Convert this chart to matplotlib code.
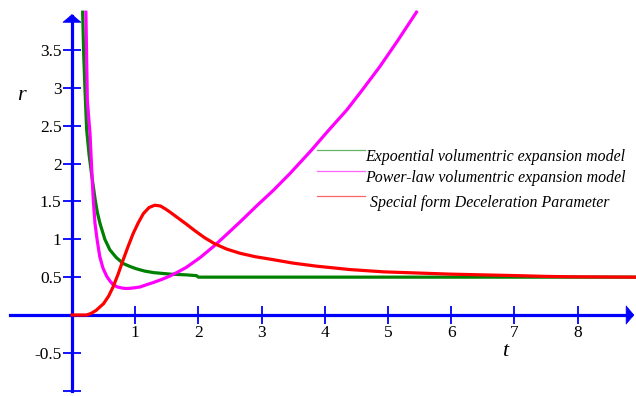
import matplotlib
matplotlib.use("Agg")
import matplotlib.pyplot as plt
from matplotlib.patches import FancyArrowPatch

# ---------------- data ----------------
t_exp = [0.169, 0.185, 0.206, 0.232, 0.27, 0.31, 0.337, 0.364, 0.40, 0.443,
         0.52, 0.60, 0.70, 0.81, 0.92, 1.02, 1.15, 1.29, 1.42, 1.55, 1.81,
         1.97, 2.0, 8.92]
r_exp = [4.0, 3.45, 2.97, 2.45, 2.12, 1.86, 1.70, 1.54, 1.36, 1.21,
         1.00, 0.86, 0.76, 0.68, 0.64, 0.61, 0.58, 0.56, 0.55, 0.54, 0.53,
         0.52, 0.50, 0.50]

t_pow = [0.22, 0.243, 0.265, 0.285, 0.31, 0.337, 0.364, 0.40, 0.44, 0.49,
         0.55, 0.60, 0.65, 0.72, 0.80, 0.865, 0.95, 1.076, 1.18, 1.29, 1.42,
         1.55, 1.68, 1.81, 2.03, 2.26, 2.39, 2.66, 2.92, 3.19, 3.45, 3.77,
         4.05, 4.35, 4.6, 4.87, 5.15, 5.45]
r_pow = [4.0, 2.84, 2.60, 2.40, 1.96, 1.52, 1.21, 0.98, 0.77, 0.62,
         0.51, 0.45, 0.40, 0.37, 0.355, 0.35, 0.355, 0.37, 0.40, 0.43, 0.47,
         0.515, 0.57, 0.63, 0.76, 0.92, 1.02, 1.23, 1.44, 1.65, 1.87, 2.16,
         2.43, 2.71, 2.98, 3.28, 3.62, 4.0]

t_dec = [0.0, 0.23, 0.30, 0.38, 0.50, 0.58, 0.65, 0.73, 0.81, 0.89, 0.97,
         1.05, 1.13, 1.22, 1.31, 1.40, 1.48, 1.55, 1.68, 1.81, 1.95, 2.10,
         2.26, 2.45, 2.66, 2.9, 3.19, 3.5, 3.87, 4.4, 4.93, 5.45, 5.98, 6.5,
         7.04, 7.5, 7.88, 8.92]
r_dec = [0.0, 0.0, 0.02, 0.06, 0.15, 0.25, 0.37, 0.54, 0.73, 0.91, 1.08,
         1.22, 1.34, 1.42, 1.45, 1.44, 1.40, 1.36, 1.28, 1.20, 1.11, 1.02,
         0.94, 0.87, 0.815, 0.77, 0.73, 0.685, 0.645, 0.60, 0.57, 0.555, 0.54,
         0.53, 0.52, 0.51, 0.505, 0.50]

labels = ["Expoential volumentric expansion model",
          "Power-law volumentric expansion model",
          "Special form Deceleration Parameter"]

x_ticks = [1, 2, 3, 4, 5, 6, 7, 8]
x_ticklabels = ["1", "2", "3", "4", "5", "6", "7", "8"]
y_ticks = [-1, -0.5, 0.5, 1, 1.5, 2, 2.5, 3, 3.5]
y_ticklabels = ["", "-0.5", "0.5", "1", "1.5", "2", "2.5", "3", "3.5"]

# ---------------- figure ----------------
W, H = 636, 396
fig = plt.figure(figsize=(W / 100, H / 100), dpi=100)
ax = fig.add_axes([0, 0, 1, 1])
ax.set_xlim(-1.139, 8.924)
ax.set_ylim(-1.070, 4.161)

blue = "#0000ff"
serif = ["Liberation Serif", "DejaVu Serif"]

ax.plot(t_exp, r_exp, color="#008000", lw=2.3, zorder=3, solid_joinstyle="round")
ax.plot(t_pow, r_pow, color="#ff00ff", lw=2.3, zorder=4, solid_joinstyle="round")
ax.plot(t_dec, r_dec, color="#ff0000", lw=2.3, zorder=5, solid_joinstyle="round")

# axes through the origin
for s in ["top", "right"]:
    ax.spines[s].set_visible(False)
ax.spines["left"].set_position(("data", 0))
ax.spines["bottom"].set_position(("data", 0))
ax.spines["left"].set_bounds(-1.01, 3.95)
ax.spines["bottom"].set_bounds(-0.98, 8.85)
for s in ["left", "bottom"]:
    ax.spines[s].set_color(blue)
    ax.spines[s].set_linewidth(2.3)
    ax.spines[s].set_zorder(2)

for (a, b) in [((0, 3.9), (0, 4.01)), ((8.8, 0), (8.94, 0))]:
    ax.add_patch(FancyArrowPatch(a, b, arrowstyle="-|>,head_length=0.55,head_width=0.65",
                                 mutation_scale=10, color=blue, lw=0.5,
                                 clip_on=False, zorder=2))

ax.set_xticks(x_ticks)
ax.set_xticklabels(x_ticklabels)
ax.set_yticks(y_ticks)
ax.set_yticklabels(y_ticklabels)
ax.tick_params(direction="inout", length=13, width=1.3, color=blue,
               labelsize=12.5, pad=1)
for lab in ax.get_xticklabels() + ax.get_yticklabels():
    lab.set_family(serif)

# axis titles
ax.text(21.7 / W, 1 - 95 / H, "r", transform=ax.transAxes, fontsize=16,
        family=serif, style="italic", ha="center", va="center")
ax.text(505 / W, 1 - 352 / H, "t", transform=ax.transAxes, fontsize=16,
        family=serif, style="italic", ha="center", va="center")

# legend (drawn as in the reference: short thin lines above-left of each text)
leg_colors = ["#66b366", "#ff66ff", "#ff6666"]
leg_line_y = [150, 171, 196]
leg_text_x = [365, 365, 370]
leg_text_y = [157, 178, 203]
for lab, c, ly, tx, ty in zip(labels, leg_colors, leg_line_y, leg_text_x, leg_text_y):
    ax.plot([317 / W, 365 / W], [1 - ly / H, 1 - ly / H], color=c, lw=0.9,
            transform=ax.transAxes, zorder=6)
    ax.text(tx / W, 1 - ty / H, lab, transform=ax.transAxes, fontsize=11.4,
            family=serif, style="italic", ha="left", va="center", zorder=6)

fig.savefig("out.png", dpi=100)
